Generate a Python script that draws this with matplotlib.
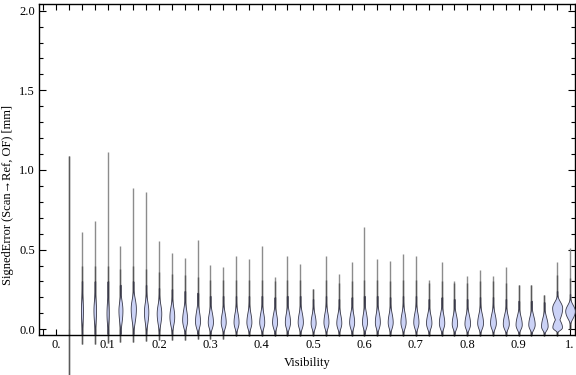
import numpy as np
import matplotlib.pyplot as plt
from matplotlib.ticker import FixedLocator, MultipleLocator

plt.rcParams['font.family'] = ['Liberation Serif', 'DejaVu Serif']

# one violin per visibility bin
visibility = [0.025, 0.05, 0.075, 0.1, 0.125, 0.15, 0.175, 0.2, 0.225, 0.25,
              0.275, 0.3, 0.325, 0.35, 0.375, 0.4, 0.425, 0.45, 0.475, 0.5,
              0.525, 0.55, 0.575, 0.6, 0.625, 0.65, 0.675, 0.7, 0.725, 0.75,
              0.775, 0.8, 0.825, 0.85, 0.875, 0.9, 0.925, 0.95, 0.975, 1.0]

# whisker range (min / max signed error, mm)
err_max = [1.09, 0.61, 0.68, 1.11, 0.525, 0.886, 0.86, 0.556, 0.48, 0.45,
           0.563, 0.405, 0.39, 0.46, 0.44, 0.52, 0.33, 0.46, 0.41, 0.25,
           0.46, 0.35, 0.42, 0.64, 0.44, 0.43, 0.47, 0.46, 0.31, 0.42,
           0.30, 0.335, 0.37, 0.335, 0.39, 0.28, 0.28, 0.215, 0.42, 0.51]
err_min = [-0.29, -0.09, -0.09, -0.085, -0.08, -0.08, -0.075, -0.065, -0.065, -0.065,
           -0.06, -0.06, -0.06, -0.045, -0.045, -0.045, -0.045, -0.045, -0.045, -0.045,
           -0.045, -0.045, -0.045, -0.045, -0.045, -0.045, -0.045, -0.045, -0.045, -0.045,
           -0.045, -0.045, -0.045, -0.045, -0.045, -0.045, -0.045, -0.045, -0.04, 0.0]

# density body: lower end, mode, upper end, peak half width (px)
body_lo = [0.0, -0.03, -0.03, -0.03, -0.03, -0.03, -0.03, -0.03, -0.03, -0.03,
           -0.03, -0.03, -0.03, -0.03, -0.03, -0.03, -0.03, -0.03, -0.03, -0.03,
           -0.03, -0.03, -0.03, -0.03, -0.03, -0.03, -0.03, -0.03, -0.03, -0.03,
           -0.03, -0.03, -0.03, -0.03, -0.03, -0.03, -0.03, -0.03, -0.02, 0.03]
body_mode = [0.1, 0.12, 0.12, 0.10, 0.12, 0.13, 0.11, 0.10, 0.08, 0.06,
             0.05, 0.045, 0.045, 0.045, 0.045, 0.045, 0.045, 0.045, 0.045, 0.04,
             0.045, 0.04, 0.045, 0.045, 0.045, 0.045, 0.045, 0.045, 0.04, 0.04,
             0.035, 0.035, 0.04, 0.04, 0.035, 0.03, 0.03, 0.02, 0.013, 0.115]
body_hi = [0.2, 0.30, 0.30, 0.30, 0.28, 0.30, 0.28, 0.26, 0.25, 0.24,
           0.23, 0.21, 0.21, 0.21, 0.21, 0.21, 0.20, 0.21, 0.21, 0.19,
           0.21, 0.19, 0.20, 0.21, 0.21, 0.20, 0.21, 0.21, 0.19, 0.20,
           0.19, 0.19, 0.20, 0.20, 0.19, 0.18, 0.18, 0.17, 0.13, 0.22]
body_w = [0.0, 1.0, 1.3, 1.1, 2.0, 2.6, 2.2, 2.3, 2.4, 2.5,
          2.5, 2.6, 2.5, 2.5, 2.5, 2.5, 2.5, 2.6, 2.6, 2.5,
          2.5, 2.5, 2.5, 2.5, 2.5, 2.5, 2.6, 2.6, 2.7, 2.7,
          2.7, 2.8, 2.9, 2.9, 3.0, 3.1, 3.2, 3.3, 4.8, 4.8]

# second mode of the bimodal bin at 0.975
second_x = [0.975]
second_lo = [0.01]
second_mode = [0.135]
second_hi = [0.24]
second_w = [5.0]

PX = 1 / 513.0  # x data units per pixel


def half_width(y, lo, mode, hi, w):
    out = np.zeros_like(y)
    below = y <= mode
    t = np.clip((mode - y[below]) / (mode - lo), 0, 1)
    out[below] = (0.5 + 0.5 * np.cos(np.pi * t)) ** 0.8
    t = np.clip((y[~below] - mode) / (hi - mode), 0, 1)
    out[~below] = (0.5 + 0.5 * np.cos(np.pi * t)) ** 1.6
    return out * w * PX


fig = plt.figure(figsize=(5.76, 3.75), dpi=100)
ax = fig.add_axes([39 / 576, 1 - 335 / 375, 536 / 576, 331 / 375])

fill_c = '#cbd2f6'
edge_c = '#3a3a4a'

for i, x in enumerate(visibility):
    if body_w[i] > 0:
        top = body_hi[i]
        if x in second_x:
            top = max(top, second_hi[second_x.index(x)])
        mid_top = min(top + 0.1, err_max[i])
    else:
        # bin without a density body: just a plain line
        top = None
        mid_top = err_max[i]
    ax.plot([x, x], [err_min[i], err_max[i]], color='#8c8c8c', lw=1.0,
            clip_on=False, zorder=2, solid_capstyle='butt')
    ax.plot([x, x], [err_min[i], mid_top], color='#5a5a5a', lw=1.0,
            clip_on=False, zorder=2, solid_capstyle='butt')
    if top is None:
        continue
    ax.plot([x, x], [max(err_min[i], -0.036), top], color='#2a2a2a',
            lw=1.0, zorder=3, solid_capstyle='butt')
    lo, hi = body_lo[i], body_hi[i]
    if x in second_x:
        j = second_x.index(x)
        hi = second_hi[j]
    y = np.linspace(lo, hi, 200)
    hw = half_width(y, body_lo[i], body_mode[i], body_hi[i], body_w[i])
    if x in second_x:
        hw = np.maximum(hw, half_width(y, second_lo[j], second_mode[j],
                                       second_hi[j], second_w[j]))
    ax.fill_betweenx(y, x - hw, x + hw, facecolor=fill_c, edgecolor=edge_c,
                     lw=0.6, zorder=4)

ax.set_xlim(-0.0335, 1.0097)
ax.set_ylim(-0.036, 2.042)

ax.xaxis.set_major_locator(FixedLocator([0, 0.1, 0.2, 0.3, 0.4, 0.5, 0.6, 0.7, 0.8, 0.9, 1.0]))
ax.set_xticklabels(['0.', '0.1', '0.2', '0.3', '0.4', '0.5', '0.6', '0.7', '0.8', '0.9', '1.'])
ax.xaxis.set_minor_locator(MultipleLocator(0.025))
ax.yaxis.set_major_locator(MultipleLocator(0.5))
ax.yaxis.set_minor_locator(MultipleLocator(0.1))
ax.yaxis.set_major_formatter(plt.FormatStrFormatter('%.1f'))

ax.tick_params(axis='both', which='both', direction='in', top=True, right=True,
               labelsize=9, width=0.8, colors='black')
ax.tick_params(axis='x', which='both', length=4, pad=3)
ax.tick_params(axis='y', which='major', length=5, pad=3)
ax.tick_params(axis='y', which='minor', length=3)

for s in ax.spines.values():
    s.set_linewidth(1.0)

ax.set_xlabel('Visibility', fontsize=9, labelpad=4)
ax.set_ylabel('SignedError (Scan\u2192Ref, OF) [mm]', fontsize=9)
ax.yaxis.set_label_coords(-0.046, 0.423)

fig.savefig('out.png', dpi=100)
